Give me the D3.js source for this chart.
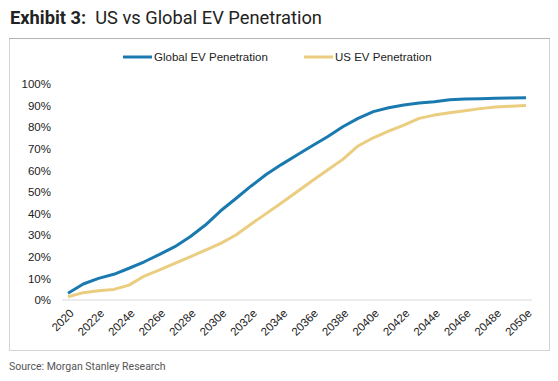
<!DOCTYPE html>
<html><head><meta charset="utf-8">
<script src="https://cdn.jsdelivr.net/npm/d3@7"></script>
<style>body{margin:0;background:#fff;}svg{display:block;}</style>
</head><body>
<script>
const years = d3.range(2020, 2051);
const yearLabels = years.map(y => y === 2020 ? "2020" : y + "e");
const globalEV = [3.1,7.4,10.0,11.9,14.7,17.7,21.1,24.7,29.3,34.7,41.3,47.0,52.8,58.2,62.8,67.1,71.4,75.6,80.2,84.1,87.2,89.0,90.3,91.2,91.8,92.7,93.0,93.2,93.4,93.5,93.6];
const usEV = [1.5,3.4,4.3,4.9,6.9,11.1,13.9,17.0,20.0,23.1,26.2,30.1,35.2,40.1,45.0,50.1,55.2,60.2,65.1,71.3,75.1,78.2,81.0,84.1,85.6,86.7,87.6,88.6,89.4,89.7,90.1];
const yTicks = [0,10,20,30,40,50,60,70,80,90,100];
const seriesNames = ["Global EV Penetration","US EV Penetration"];
const colors = ["#1a7ab0","#ebcd80"];

const W = 558, H = 381;
const svg = d3.select("body").append("svg").attr("width", W).attr("height", H);

svg.append("text").attr("x", 10).attr("y", 24).attr("font-family","Roboto, Arial, sans-serif")
  .attr("font-size", 18.3).attr("fill","#222")
  .call(t => { t.append("tspan").attr("font-weight","bold").text("Exhibit 3:"); t.append("tspan").attr("dx",9).text("US vs Global EV Penetration"); });

// panel border: sides light, top darker
svg.append("rect").attr("x", 9.5).attr("y", 38.5).attr("width", 540).attr("height", 312)
  .attr("fill","none").attr("stroke","#d4d4d4").attr("stroke-width",1);
svg.append("line").attr("x1", 9).attr("x2", 550).attr("y1", 38.5).attr("y2", 38.5)
  .attr("stroke","#b4b4b4").attr("stroke-width",1);

svg.append("text").attr("x", 9).attr("y", 370).attr("font-family","Roboto, Arial, sans-serif")
  .attr("font-size", 10.5).attr("fill","#555").text("Source: Morgan Stanley Research");

const x = d3.scaleLinear().domain([2020, 2050]).range([68, 526]);
const y = d3.scaleLinear().domain([0, 100]).range([300, 84]);

// y axis labels
const yAxis = svg.append("g").attr("transform","translate(51,0)")
  .call(d3.axisLeft(y).tickValues(yTicks).tickSize(0).tickPadding(0).tickFormat(d => d + "%"));
yAxis.select(".domain").remove();
yAxis.selectAll("text").attr("font-family","Liberation Sans, Arial, sans-serif").attr("font-size",11.5).attr("fill","#222");

// baseline
svg.append("line").attr("x1", 62).attr("x2", 532).attr("y1", y(0)).attr("y2", y(0))
  .attr("stroke","#d9d9d9").attr("stroke-width",1);

// x axis
const xAxis = svg.append("g").attr("transform",`translate(0,${y(0)})`)
  .call(d3.axisBottom(x).tickValues(years.filter((d,i)=>i%2===0)).tickSize(0).tickPadding(0)
    .tickFormat(d => yearLabels[years.indexOf(d)]));
xAxis.select(".domain").remove();
xAxis.selectAll("text").attr("font-family","Liberation Sans, Arial, sans-serif").attr("font-size",11.5).attr("fill","#222")
  .attr("text-anchor","end").attr("dy",0).attr("y",0)
  .attr("transform","translate(6,14) rotate(-45)");

const line = d3.line().x((d,i) => x(years[i])).y(d => y(d));
[usEV, globalEV].forEach((s) => {
  const k = s === globalEV ? 0 : 1;
  svg.append("path").datum(s).attr("d", line).attr("fill","none")
    .attr("stroke", colors[k]).attr("stroke-width", 3).attr("stroke-linejoin","round");
});

// legend
const legX = [123, 304];
seriesNames.forEach((n,k) => {
  svg.append("line").attr("x1", legX[k]).attr("x2", legX[k]+29).attr("y1", 57).attr("y2", 57)
    .attr("stroke", colors[k]).attr("stroke-width", 3);
  svg.append("text").attr("x", legX[k]+31).attr("y", 61).attr("font-family","Liberation Sans, Arial, sans-serif")
    .attr("font-size", 11.5).attr("fill","#222").text(n);
});
</script>
</body></html>
